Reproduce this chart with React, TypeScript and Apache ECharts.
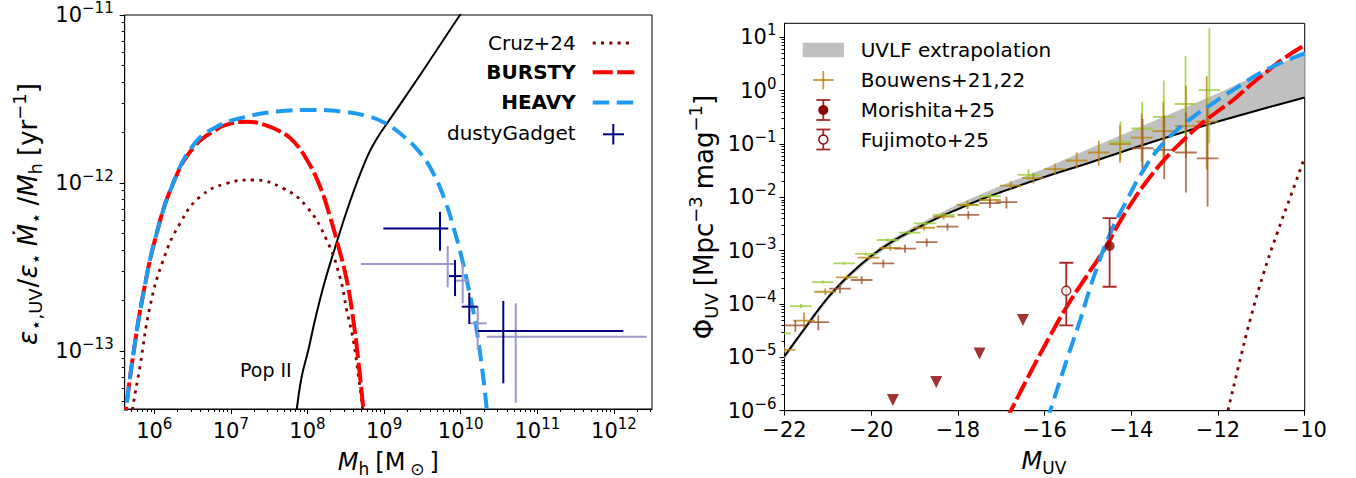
import React, { useEffect, useRef } from "react";
import * as echarts from "echarts";

const FONT = "'DejaVu Sans', sans-serif";

// ---------------- Left panel (log10 units) ----------------
const popIILog10Mh = [7.825, 7.859, 7.924, 8.011, 8.098, 8.207, 8.337, 8.555, 8.773, 8.9, 9.077, 9.426, 9.687, 9.99, 10.05];
const popIILog10Eps = [-13.45, -13.345, -13.153, -12.994, -12.815, -12.617, -12.418, -12.11, -11.85, -11.74, -11.62, -11.387, -11.208, -11.0, -10.96];

const cruzLeftLog10Mh = [5.7, 5.718, 5.813, 5.944, 6.117, 6.336, 6.597, 6.945, 7.292, 7.684, 7.989, 8.25, 8.424, 8.512, 8.598, 8.665, 8.72, 8.74];
const cruzLeftLog10Eps = [-13.45, -13.345, -13.093, -12.736, -12.458, -12.24, -12.082, -12.002, -11.982, -12.032, -12.141, -12.339, -12.56, -12.756, -12.935, -13.15, -13.345, -13.45];

const burstyLeftLog10Mh = [5.6, 5.63, 5.726, 5.856, 6.031, 6.248, 6.509, 6.815, 7.0, 7.206, 7.45, 7.65, 7.815, 7.99, 8.163, 8.294, 8.381, 8.512, 8.598, 8.663, 8.729, 8.75];
const burstyLeftLog10Eps = [-13.45, -13.345, -13.02, -12.66, -12.3, -12.0, -11.79, -11.68, -11.645, -11.635, -11.655, -11.695, -11.75, -11.86, -12.02, -12.2, -12.34, -12.577, -12.815, -13.054, -13.345, -13.45];

const heavyLeftLog10Mh = [5.6, 5.63, 5.726, 5.856, 6.031, 6.248, 6.509, 6.815, 7.206, 7.6, 8.076, 8.45, 8.773, 9.0, 9.208, 9.45, 9.642, 9.8, 9.903, 10.0, 10.079, 10.15, 10.209, 10.295, 10.34, 10.37];
const heavyLeftLog10Eps = [-13.45, -13.345, -13.02, -12.66, -12.3, -12.0, -11.775, -11.665, -11.605, -11.575, -11.565, -11.575, -11.6, -11.64, -11.704, -11.81, -11.942, -12.11, -12.26, -12.42, -12.577, -12.73, -12.875, -13.16, -13.345, -13.47];

// dustyGadget (dark)
const dgLog10Mh = [9.73, 9.926, 10.112, 10.556];
const dgLog10MhLo = [8.99, 9.847, 10.013, 10.222];
const dgLog10MhHi = [9.838, 10.013, 10.222, 12.123];
const dgLog10Eps = [-12.27, -12.554, -12.736, -12.881];
const dgLog10EpsLo = [-12.403, -12.673, -12.839, -13.192];
const dgLog10EpsHi = [-12.171, -12.458, -12.653, -12.702];
// dustyGadget (light)
const dgAltLog10Mh = [9.83, 10.026, 10.222, 10.718];
const dgAltLog10MhLo = [8.698, 9.94, 10.121, 10.339];
const dgAltLog10MhHi = [9.926, 10.112, 10.339, 12.428];
const dgAltLog10Eps = [-12.482, -12.581, -12.835, -12.915];
const dgAltLog10EpsLo = [-12.621, -12.716, -12.994, -13.308];
const dgAltLog10EpsHi = [-12.375, -12.478, -12.732, -12.716];

// ---------------- Right panel ----------------
const uvlfM = [-22, -21.5, -21, -20.5, -20, -19.5, -19, -18.5, -18, -17.5, -17, -16, -15, -14, -13, -12, -11, -10];
const uvlfLower = [-5.03, -4.47, -3.93, -3.5, -3.15, -2.87, -2.64, -2.43, -2.23, -2.05, -1.9, -1.62, -1.36, -1.09, -0.83, -0.58, -0.35, -0.13];
const uvlfUpper = [-4.96, -4.4, -3.85, -3.42, -3.06, -2.77, -2.54, -2.33, -2.13, -1.95, -1.78, -1.46, -1.1, -0.75, -0.4, -0.05, 0.33, 0.73];

const fitM = [-22, -21.5, -21, -20.5, -20, -19.5, -19, -18.5, -18, -17.5, -17, -16, -15, -14, -13, -12, -11, -10];
const fitLog10Phi = [-4.98, -4.42, -3.88, -3.45, -3.1, -2.82, -2.6, -2.4, -2.22, -2.05, -1.9, -1.62, -1.36, -1.09, -0.83, -0.58, -0.35, -0.13];

const burstyRightM = [-16.9, -16.76, -16.26, -15.8, -15.49, -15.05, -14.6, -14.33, -13.95, -13.56, -13.18, -12.8, -12.41, -12.03, -11.64, -11.26, -10.87, -10.49, -10.0];
const burstyRightLog10Phi = [-6.2, -5.97, -5.18, -4.49, -4.05, -3.5, -2.95, -2.55, -2.05, -1.61, -1.24, -0.93, -0.64, -0.4, -0.17, 0.1, 0.36, 0.6, 0.855];

const heavyRightM = [-15.95, -15.87, -15.49, -15.18, -14.87, -14.5, -14.1, -13.72, -13.33, -12.95, -12.57, -12.18, -11.64, -10.87, -10.0];
const heavyRightLog10Phi = [-6.2, -6.0, -5.05, -4.3, -3.5, -2.7, -2.05, -1.49, -1.05, -0.74, -0.49, -0.27, 0.02, 0.4, 0.7];

const cruzRightM = [-11.85, -11.77, -11.53, -11.26, -10.95, -10.64, -10.33, -10.0];
const cruzRightLog10Phi = [-6.3, -6.0, -5.18, -4.3, -3.43, -2.68, -1.99, -1.25];

const bouwensXerr = 0.25;
const bouwensAM = [-22.1, -21.62, -21.12, -20.62, -20.12, -19.62, -19.12, -18.76, -18.33, -17.76, -17.26, -16.37, -14.25, -13.75, -13.25, -12.75, -12.2];
const bouwensALog = [-4.55, -4.04, -3.59, -3.24, -3.06, -2.8, -2.66, -2.49, -2.33, -2.14, -1.98, -1.58, -0.96, -0.71, -0.49, -0.25, 0.01];
const bouwensAUp = [0.03, 0.04, 0.03, 0.03, 0.03, 0.03, 0.04, 0.04, 0.05, 0.05, 0.06, 0.1, 0.38, 0.5, 0.68, 0.9, 1.16];
const bouwensADn = [0.03, 0.04, 0.03, 0.03, 0.03, 0.03, 0.04, 0.04, 0.05, 0.05, 0.06, 0.1, 0.34, 0.72, 0.7, 0.9, 1.0];

const bouwensBM = [-22.0, -21.55, -21.06, -20.56, -20.06, -19.56, -18.78, -18.33, -17.78, -17.26, -16.78, -16.26, -15.76, -15.26, -14.75, -14.26, -13.76, -13.26, -12.74, -12.26];
const bouwensBLog = [-4.86, -4.31, -3.77, -3.5, -3.13, -2.95, -2.57, -2.36, -2.14, -2.05, -1.78, -1.64, -1.47, -1.31, -1.16, -1.0, -0.88, -0.76, -0.66, -0.58];
const bouwensBUp = [0.05, 0.15, 0.06, 0.05, 0.05, 0.05, 0.05, 0.06, 0.08, 0.07, 0.08, 0.1, 0.1, 0.15, 0.22, 0.35, 0.45, 0.55, 0.75, 0.85];
const bouwensBDn = [0.05, 0.15, 0.06, 0.05, 0.05, 0.05, 0.05, 0.06, 0.08, 0.07, 0.08, 0.1, 0.1, 0.15, 0.25, 0.35, 0.45, 0.55, 0.6, 0.9];

const bouwensCM = [-21.75, -21.22, -20.72, -20.22, -19.72, -19.22, -18.72, -18.24, -17.76, -17.26, -16.88, -13.74, -13.24, -12.74, -12.24];
const bouwensCLog = [-4.4, -4.34, -3.71, -3.55, -3.24, -2.96, -2.84, -2.55, -2.33, -2.11, -2.09, -1.08, -1.11, -1.16, -1.27];
const bouwensCUp = [0.1, 0.13, 0.08, 0.07, 0.07, 0.07, 0.07, 0.06, 0.07, 0.08, 0.1, 0.55, 0.65, 0.75, 0.95];
const bouwensCDn = [0.12, 0.15, 0.09, 0.08, 0.08, 0.08, 0.08, 0.07, 0.08, 0.09, 0.12, 0.45, 0.55, 0.75, 0.9];

const limitM = [-19.5, -18.5, -17.5, -16.5];
const limitLog10Phi = [-5.8, -5.46, -4.93, -4.3];

const morishitaM = [-14.5];
const morishitaLog = [-2.913];
const morishitaHi = [-2.39];
const morishitaLo = [-3.676];

const fujimotoM = [-15.5];
const fujimotoLog = [-3.75];
const fujimotoHi = [-3.226];
const fujimotoLo = [-4.4];

// ---------------- Axis ranges / ticks ----------------
const LX_MIN = 5.614, LX_MAX = 12.497;
const LY_MIN = -13.345, LY_MAX = -11;
const RX_MIN = -22, RX_MAX = -10;
const RY_MIN = -6, RY_MAX = 1.2625;
const leftXMajor = [6, 7, 8, 9, 10, 11, 12];
const leftYMajor = [-13, -12, -11];
const rightYMajor = [-6, -5, -4, -3, -2, -1, 0, 1];

function minorLog(lo: number, hi: number) {
  const out: number[] = [];
  for (let n = Math.floor(lo); n <= Math.ceil(hi); n++) {
    for (let k = 2; k <= 9; k++) {
      const v = n + Math.log10(k);
      if (v > lo + 1e-6 && v < hi - 1e-6) out.push(v);
    }
  }
  return out;
}

const MINUS = "\u2212";
const expStr = (e: number) => (e < 0 ? MINUS + Math.abs(e) : String(e));
const powLabel = (v: number) => `{b|10}{s|${expStr(Math.round(v))}}`;
const powRich = {
  b: { fontSize: 21, fontFamily: FONT, color: "#000", verticalAlign: "top", padding: [4, 0, 4, 0] },
  s: { fontSize: 15, fontFamily: FONT, color: "#000", verticalAlign: "top" },
};

function logAxes(kind: "x" | "y", gridIndex: number, min: number, max: number, majors: number[], margin: number) {
  const position = kind === "x" ? "bottom" : "left";
  const major = {
    gridIndex, type: "value", min, max, position,
    axisLine: { show: true, onZero: false, lineStyle: { color: "#000", width: 1 } },
    axisTick: { show: true, customValues: majors, length: 5, lineStyle: { color: "#000", width: 1 } },
    axisLabel: { show: true, customValues: majors, margin, formatter: powLabel, rich: powRich, color: "#000" },
    splitLine: { show: false },
  };
  const minor = {
    gridIndex, type: "value", min, max, position,
    axisLine: { show: false, onZero: false },
    axisTick: { show: true, customValues: minorLog(min, max), length: 3, lineStyle: { color: "#000", width: 1 } },
    axisLabel: { show: false },
    splitLine: { show: false },
  };
  return [major, minor];
}

function lineSeries(xs: number[], ys: number[], xi: number, yi: number, color: string, width: number, type: any, z: number) {
  return {
    type: "line", xAxisIndex: xi, yAxisIndex: yi,
    data: xs.map((x, i) => [x, ys[i]]),
    symbol: "none", showSymbol: false, smooth: 0.45,
    lineStyle: { color, width, type, cap: "butt" }, clip: true, z, silent: true,
  };
}

function errSeries(rows: number[][], xi: number, yi: number, color: string, width: number, opacity: number, cap: number, z: number) {
  return {
    type: "custom", xAxisIndex: xi, yAxisIndex: yi, z, clip: true, silent: true,
    data: rows, encode: { x: 0, y: 1 },
    renderItem: (_p: any, api: any) => {
      const x = api.value(0), y = api.value(1);
      const c = api.coord([x, y]);
      const a = api.coord([api.value(2), y]);
      const b = api.coord([api.value(3), y]);
      const lo = api.coord([x, api.value(4)]);
      const hi = api.coord([x, api.value(5)]);
      const st = { stroke: color, lineWidth: width, opacity };
      const ch: any[] = [];
      if (b[0] - a[0] > 0.5) ch.push({ type: "line", shape: { x1: a[0], y1: c[1], x2: b[0], y2: c[1] }, style: st });
      ch.push({ type: "line", shape: { x1: c[0], y1: hi[1], x2: c[0], y2: lo[1] }, style: st });
      if (cap > 0) {
        ch.push({ type: "line", shape: { x1: c[0] - cap, y1: hi[1], x2: c[0] + cap, y2: hi[1] }, style: st });
        ch.push({ type: "line", shape: { x1: c[0] - cap, y1: lo[1], x2: c[0] + cap, y2: lo[1] }, style: st });
      }
      return { type: "group", children: ch };
    },
  };
}

const bouwensRows = (M: number[], L: number[], up: number[], dn: number[]) =>
  M.map((m, i) => [m, L[i], m - bouwensXerr, m + bouwensXerr, L[i] - dn[i], L[i] + up[i]]);

const tRich = (T: number, S: number, gap: number) => ({
  n: { fontSize: T, fontFamily: FONT, color: "#000", verticalAlign: "top", padding: [5, 0, 0, 0] },
  i: { fontSize: T, fontFamily: FONT, fontStyle: "italic", color: "#000", verticalAlign: "top", padding: [5, 0, 0, 0] },
  s: { fontSize: S, fontFamily: FONT, color: "#000", verticalAlign: "top", padding: [16, 1, 0, 0] },
  sr: { fontSize: S, fontFamily: FONT, color: "#000", verticalAlign: "top", padding: [16, gap, 0, 0] },
  so: { fontSize: S, fontFamily: FONT, color: "#000", verticalAlign: "top", padding: [16, 5, 0, 5] },
  p: { fontSize: S, fontFamily: FONT, color: "#000", verticalAlign: "top", padding: [0, 0, 0, 0] },
  pr: { fontSize: S, fontFamily: FONT, color: "#000", verticalAlign: "top", padding: [0, gap, 0, 0] },
});

function txt(x: number, y: number, text: string, align: string, extra: any = {}) {
  return {
    type: "text", x, y, silent: true,
    style: { text, fontSize: 20, fontFamily: FONT, fill: "#000", align, verticalAlign: "middle", textAlign: align, textVerticalAlign: "middle", ...extra },
  };
}
function seg(x1: number, y1: number, x2: number, y2: number, style: any) {
  return { type: "line", silent: true, shape: { x1, y1, x2, y2 }, style };
}

const RED = "#ff0000";
const BLUE = "#1e9bf0";
const MAROON = "#800000";
const NAVY = "#000080";
const NAVY_LIGHT = "#9999cc";
const GREEN = "#9acd32";
const GOLD = "#b8860b";
const BROWN = "#a0522d";
const ERR = "#a52a2a";
const DARKRED = "#8b0000";
const RED_DASH = [20, 4.5];
const BLUE_DASH = [16.5, 7.5];
const DOT = [3, 5.3];

function buildOption() {
  const [lx, lxm] = logAxes("x", 0, LX_MIN, LX_MAX, leftXMajor, 7);
  const [ly, lym] = logAxes("y", 0, LY_MIN, LY_MAX, leftYMajor, 11);
  const [ry, rym] = logAxes("y", 1, RY_MIN, RY_MAX, rightYMajor, 8);
  const rx = {
    gridIndex: 1, type: "value", min: RX_MIN, max: RX_MAX, interval: 2, position: "bottom",
    axisLine: { show: true, onZero: false, lineStyle: { color: "#000", width: 1 } },
    axisTick: { show: true, length: 5, lineStyle: { color: "#000", width: 1 } },
    axisLabel: { margin: 9, fontSize: 21, fontFamily: FONT, color: "#000", formatter: (v: number) => String(v).replace("-", MINUS) },
    splitLine: { show: false },
  };

  const dgRows = dgLog10Mh.map((m, i) => [m, dgLog10Eps[i], dgLog10MhLo[i], dgLog10MhHi[i], dgLog10EpsLo[i], dgLog10EpsHi[i]]);
  const dgAltRows = dgAltLog10Mh.map((m, i) => [m, dgAltLog10Eps[i], dgAltLog10MhLo[i], dgAltLog10MhHi[i], dgAltLog10EpsLo[i], dgAltLog10EpsHi[i]]);

  const series: any[] = [
    // left panel
    lineSeries(popIILog10Mh, popIILog10Eps, 0, 0, "#000", 2, "solid", 2),
    lineSeries(cruzLeftLog10Mh, cruzLeftLog10Eps, 0, 0, MAROON, 2.8, DOT, 3),
    lineSeries(burstyLeftLog10Mh, burstyLeftLog10Eps, 0, 0, RED, 4, RED_DASH, 4),
    lineSeries(heavyLeftLog10Mh, heavyLeftLog10Eps, 0, 0, BLUE, 4, BLUE_DASH, 5),
    errSeries(dgAltRows, 0, 0, NAVY_LIGHT, 2, 1, 0, 6),
    errSeries(dgRows, 0, 0, NAVY, 2, 1, 0, 7),
    // right panel
    {
      type: "custom", xAxisIndex: 2, yAxisIndex: 2, z: 1, silent: true, clip: true,
      data: [[uvlfM[0], uvlfLower[0]]], encode: { x: 0, y: 1 },
      renderItem: (_p: any, api: any) => {
        const pts: number[][] = [];
        for (let i = 0; i < uvlfM.length; i++) pts.push(api.coord([uvlfM[i], uvlfUpper[i]]));
        for (let i = uvlfM.length - 1; i >= 0; i--) pts.push(api.coord([uvlfM[i], uvlfLower[i]]));
        return { type: "polygon", shape: { points: pts }, style: { fill: "#c0c0c0" } };
      },
    },
    lineSeries(fitM, fitLog10Phi, 2, 2, "#000", 2, "solid", 2),
    errSeries(bouwensRows(bouwensAM, bouwensALog, bouwensAUp, bouwensADn), 2, 2, GREEN, 1.8, 0.8, 0, 3),
    errSeries(bouwensRows(bouwensBM, bouwensBLog, bouwensBUp, bouwensBDn), 2, 2, GOLD, 1.8, 0.8, 0, 3),
    errSeries(bouwensRows(bouwensCM, bouwensCLog, bouwensCUp, bouwensCDn), 2, 2, BROWN, 1.8, 0.8, 0, 3),
    lineSeries(cruzRightM, cruzRightLog10Phi, 2, 2, MAROON, 2.8, DOT, 4),
    lineSeries(burstyRightM, burstyRightLog10Phi, 2, 2, RED, 4, RED_DASH, 5),
    lineSeries(heavyRightM, heavyRightLog10Phi, 2, 2, BLUE, 4, BLUE_DASH, 6),
    {
      type: "scatter", xAxisIndex: 2, yAxisIndex: 2, z: 7, silent: true,
      data: limitM.map((m, i) => [m, limitLog10Phi[i]]),
      symbol: "triangle", symbolRotate: 180, symbolSize: 12, itemStyle: { color: DARKRED },
    },
    errSeries(morishitaM.map((m, i) => [m, morishitaLog[i], m, m, morishitaLo[i], morishitaHi[i]]), 2, 2, ERR, 1.8, 1, 7, 8),
    errSeries(fujimotoM.map((m, i) => [m, fujimotoLog[i], m, m, fujimotoLo[i], fujimotoHi[i]]), 2, 2, ERR, 1.8, 1, 7, 8),
    {
      type: "scatter", xAxisIndex: 2, yAxisIndex: 2, z: 9, silent: true,
      data: morishitaM.map((m, i) => [m, morishitaLog[i]]),
      symbol: "circle", symbolSize: 10, itemStyle: { color: DARKRED },
    },
    {
      type: "scatter", xAxisIndex: 2, yAxisIndex: 2, z: 9, silent: true,
      data: fujimotoM.map((m, i) => [m, fujimotoLog[i]]),
      symbol: "circle", symbolSize: 9, itemStyle: { color: "#fff", borderColor: DARKRED, borderWidth: 1.5 },
    },
  ];

  const rich = tRich(24, 17, 6);
  const richY = tRich(26, 18, 7);
  const graphics: any[] = [
    // left legend
    txt(575.7, 43, "Cruz+24", "right"),
    seg(592.7, 43, 634.3, 43, { stroke: MAROON, lineWidth: 2.8, lineDash: DOT }),
    txt(575.7, 72.2, "BURSTY", "right", { fontWeight: "bold" }),
    seg(592.7, 72.3, 634.3, 72.3, { stroke: RED, lineWidth: 4, lineDash: RED_DASH }),
    txt(575.7, 102, "HEAVY", "right", { fontWeight: "bold" }),
    seg(592.7, 102.5, 634.3, 102.5, { stroke: BLUE, lineWidth: 4, lineDash: BLUE_DASH }),
    txt(575.7, 133, "dustyGadget", "right"),
    seg(603, 134.3, 624, 134.3, { stroke: NAVY, lineWidth: 2 }),
    seg(613.3, 124, 613.3, 144.5, { stroke: NAVY, lineWidth: 2 }),
    // Pop II
    txt(240, 370, "Pop II", "left", { fontSize: 19 }),
    // right legend
    { type: "rect", silent: true, shape: { x: 802.7, y: 42.7, width: 41.3, height: 14.6 }, style: { fill: "#c0c0c0" } },
    txt(860.7, 50, "UVLF extrapolation", "left"),
    seg(813, 80, 833.6, 80, { stroke: GOLD, lineWidth: 1.8, opacity: 0.85 }),
    seg(823.3, 71, 823.3, 89.3, { stroke: GOLD, lineWidth: 1.8, opacity: 0.85 }),
    txt(860.7, 80, "Bouwens+21,22", "left"),
    seg(823.3, 100, 823.3, 120, { stroke: ERR, lineWidth: 1.8 }),
    seg(816.3, 100, 830.3, 100, { stroke: ERR, lineWidth: 1.8 }),
    seg(816.3, 120, 830.3, 120, { stroke: ERR, lineWidth: 1.8 }),
    { type: "circle", silent: true, shape: { cx: 823.3, cy: 110, r: 5 }, style: { fill: DARKRED } },
    txt(860.7, 110, "Morishita+25", "left"),
    seg(823.3, 129.5, 823.3, 149.5, { stroke: ERR, lineWidth: 1.8 }),
    seg(816.3, 129.5, 830.3, 129.5, { stroke: ERR, lineWidth: 1.8 }),
    seg(816.3, 149.5, 830.3, 149.5, { stroke: ERR, lineWidth: 1.8 }),
    { type: "circle", silent: true, shape: { cx: 823.3, cy: 139.5, r: 4.5 }, style: { fill: "#fff", stroke: DARKRED, lineWidth: 1.5 } },
    txt(860.7, 139.5, "Fujimoto+25", "left"),
    // axis titles
    {
      type: "text", x: 27, y: 214, rotation: Math.PI / 2, silent: true,
      style: {
        text: "{i|ε}{s|⋆,UV}{n|/}{i|ε}{sr|⋆}{i|Ṁ}{sr|⋆}{n|/}{i|M}{sr|h}{n|[yr}{p|−1}{n|]}",
        rich: richY, align: "center", verticalAlign: "middle", textAlign: "center", textVerticalAlign: "middle",
      },
    },
    {
      type: "text", x: 388.4, y: 461, silent: true,
      style: { text: "{i|M}{sr|h}{n|[M}{so|⊙}{n|]}", rich, align: "center", verticalAlign: "middle", textAlign: "center", textVerticalAlign: "middle" },
    },
    {
      type: "text", x: 703, y: 217, rotation: Math.PI / 2, silent: true,
      style: { text: "{n|Φ}{sr|UV}{n|[Mpc}{pr|−3}{n|mag}{p|−1}{n|]}", rich: richY, align: "center", verticalAlign: "middle", textAlign: "center", textVerticalAlign: "middle" },
    },
    {
      type: "text", x: 1044.5, y: 460, silent: true,
      style: { text: "{i|M}{s|UV}", rich, align: "center", verticalAlign: "middle", textAlign: "center", textVerticalAlign: "middle" },
    },
  ];

  return {
    animation: false,
    backgroundColor: "#fff",
    textStyle: { fontFamily: FONT },
    grid: [
      { left: 124.7, top: 15, width: 527.3, height: 394, show: true, borderColor: "#000", borderWidth: 1, backgroundColor: "transparent" },
      { left: 784.5, top: 23.3, width: 520.2, height: 387.4, show: true, borderColor: "#000", borderWidth: 1, backgroundColor: "transparent" },
    ],
    xAxis: [lx, lxm, rx],
    yAxis: [ly, lym, ry, rym],
    series,
    graphic: { elements: graphics },
  };
}

export default function App() {
  const ref = useRef<HTMLDivElement>(null);
  useEffect(() => {
    if (!ref.current) return;
    const chart = echarts.init(ref.current, null, { renderer: "svg" });
    chart.setOption(buildOption() as any);
    return () => chart.dispose();
  }, []);
  return <div ref={ref} style={{ position: "fixed", left: 0, top: 0, width: 1356, height: 478, background: "#fff" }} />;
}
